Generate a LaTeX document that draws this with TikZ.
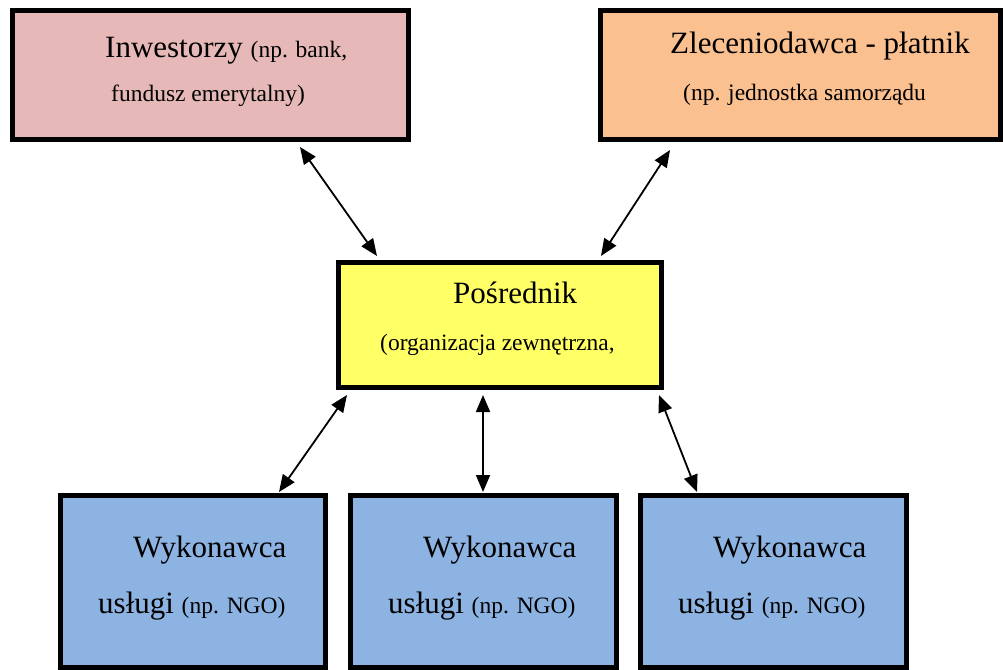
\documentclass[tikz,border=0pt]{standalone}
\usepackage{fontspec}
\setmainfont{Liberation Serif}
\usetikzlibrary{arrows.meta}
\newcommand{\bigtxt}{\fontsize{31}{37}\selectfont}
\newcommand{\smtxt}{\fontsize{23.5}{28}\selectfont}
\definecolor{invfill}{HTML}{E6B9B8}
\definecolor{zlefill}{HTML}{FAC090}
\definecolor{posfill}{HTML}{FFFF66}
\definecolor{wykfill}{HTML}{8DB3E2}
\tikzset{
  box/.style={draw=black, line width=5pt, rectangle, inner sep=0pt, outer sep=0pt},
  txt/.style={anchor=base west, inner sep=0pt, text=black},
  link/.style={line width=1.8pt, {Triangle[length=17pt,width=14pt]}-{Triangle[length=17pt,width=14pt]}}
}
\begin{document}
\begin{tikzpicture}[x=1pt,y=-1pt]
\useasboundingbox (0,0) rectangle (1003,669);

% boxes
\node[box, fill=invfill, minimum width=396pt, minimum height=128pt] (inv) at (210,75) {};
\node[box, fill=zlefill, minimum width=400pt, minimum height=128pt] (zle) at (800,75) {};
\node[box, fill=posfill, minimum width=323pt, minimum height=125pt] (pos) at (499.5,324.5) {};
\node[box, fill=wykfill, minimum width=265pt, minimum height=172pt] (w1) at (192.5,581) {};
\node[box, fill=wykfill, minimum width=266pt, minimum height=172pt] (w2) at (483,581) {};
\node[box, fill=wykfill, minimum width=266pt, minimum height=172pt] (w3) at (773,581) {};

% labels
\node[txt] (invA) at (105,58) {\bigtxt Inwestorzy \smtxt(np. bank,};
\node[txt] (invB) at (111,101) {\smtxt fundusz emerytalny)};
\node[txt] (zleA) at (670,53) {\bigtxt Zleceniodawca - płatnik};
\node[txt] (zleB) at (683,100) {\smtxt (np. jednostka samorządu};
\node[txt] (posA) at (453,303) {\bigtxt Pośrednik};
\node[txt] (posB) at (380,350) {\smtxt (organizacja zewnętrzna,};
\node[txt] (w1A) at (133,557) {\bigtxt Wykonawca};
\node[txt] (w1B) at (98,613) {\bigtxt usługi \smtxt(np. NGO)};
\node[txt] (w2A) at (423,557) {\bigtxt Wykonawca};
\node[txt] (w2B) at (388,613) {\bigtxt usługi \smtxt(np. NGO)};
\node[txt] (w3A) at (713,557) {\bigtxt Wykonawca};
\node[txt] (w3B) at (678,613) {\bigtxt usługi \smtxt(np. NGO)};

% connectors
\draw[link] ([xshift=288pt,yshift=-8pt]inv.south west) -- ([xshift=39pt,yshift=6pt]pos.north west);
\draw[link] ([xshift=70pt,yshift=-11pt]zle.south west) -- ([xshift=263pt,yshift=6pt]pos.north west);
\draw[link] ([xshift=9pt,yshift=-8pt]pos.south west) -- ([xshift=219pt,yshift=3pt]w1.north west);
\draw[link] ([xshift=145pt,yshift=-8pt]pos.south west) -- ([yshift=3pt]w2.north);
\draw[link] ([xshift=321pt,yshift=-8pt]pos.south west) -- ([xshift=57pt,yshift=3pt]w3.north west);
\end{tikzpicture}
\end{document}
